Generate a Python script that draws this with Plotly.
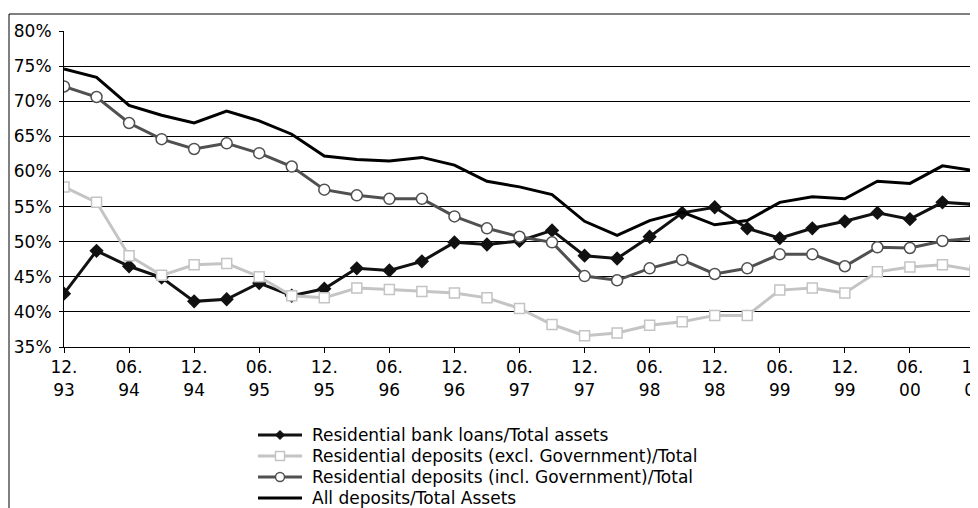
import plotly.graph_objects as go

# Trimestres (mm.aa)
trimestres = ['12.93', '03.94', '06.94', '09.94', '12.94', '03.95', '06.95', '09.95',
              '12.95', '03.96', '06.96', '09.96', '12.96', '03.97', '06.97', '09.97',
              '12.97', '03.98', '06.98', '09.98', '12.98', '03.99', '06.99', '09.99',
              '12.99', '03.00', '06.00', '09.00', '12.00']

prestamos = [42.6, 48.7, 46.5, 44.9, 41.5, 41.8, 44.1, 42.3, 43.3, 46.2, 45.9, 47.2,
             49.9, 49.6, 50.1, 51.6, 48.0, 47.6, 50.7, 54.1, 54.9, 51.9, 50.5, 51.9,
             52.9, 54.1, 53.2, 55.6, 55.3]
depositos_sin_gob = [57.8, 55.6, 48.0, 45.2, 46.7, 46.9, 45.0, 42.3, 42.0, 43.4, 43.2, 42.9,
                     42.7, 42.0, 40.5, 38.2, 36.6, 37.0, 38.1, 38.6, 39.5, 39.5, 43.1, 43.4,
                     42.7, 45.7, 46.4, 46.7, 45.9]
depositos_con_gob = [72.1, 70.6, 66.9, 64.6, 63.2, 64.0, 62.6, 60.7, 57.4, 56.6, 56.1, 56.1,
                     53.6, 51.9, 50.7, 49.9, 45.1, 44.5, 46.2, 47.4, 45.4, 46.2, 48.2, 48.2,
                     46.5, 49.2, 49.1, 50.1, 50.5]
depositos_total = [74.6, 73.4, 69.4, 68.0, 66.9, 68.6, 67.2, 65.3, 62.2, 61.7, 61.5, 62.0,
                   60.9, 58.6, 57.8, 56.7, 52.9, 50.9, 53.0, 54.2, 52.4, 53.0, 55.6, 56.4,
                   56.1, 58.6, 58.3, 60.8, 60.1]

nombres = ['Residential bank loans/Total assets',
           'Residential deposits (excl. Government)/Total',
           'Residential deposits (incl. Government)/Total',
           'All deposits/Total Assets']

# Etiquetas de los ejes
ticks_x = trimestres[::2]
etiquetas_x = [t.replace('.', '.<br>') for t in ticks_x]
ticks_y = [35, 40, 45, 50, 55, 60, 65, 70, 75, 80]
etiquetas_y = [f'{v}%' for v in ticks_y]

# La página deja 8 px de margen alrededor de la figura
DESP = 8
W, H = 970, 500
M_IZQ, M_DER, M_SUP, M_INF = 56, 3, 23, 161
ancho_plot = W - M_IZQ - M_DER
alto_plot = H - M_SUP - M_INF


def px_x(px):
    # coordenada de pantalla -> coordenada 'paper'
    return (px - DESP - M_IZQ) / ancho_plot


def px_y(py):
    return (H - M_INF - (py - DESP)) / alto_plot


NEGRO = '#111111'
GRIS_CLARO = '#c4c4c4'
GRIS_OSCURO = '#505050'

fig = go.Figure()

fig.add_trace(go.Scatter(x=trimestres, y=prestamos, mode='lines+markers', name=nombres[0],
                         line=dict(color=NEGRO, width=3),
                         marker=dict(symbol='diamond', size=11, color=NEGRO)))

fig.add_trace(go.Scatter(x=trimestres, y=depositos_sin_gob, mode='lines+markers', name=nombres[1],
                         line=dict(color=GRIS_CLARO, width=3),
                         marker=dict(symbol='square', size=10, color='white',
                                     line=dict(color=GRIS_CLARO, width=1.5))))

fig.add_trace(go.Scatter(x=trimestres, y=depositos_con_gob, mode='lines+markers', name=nombres[2],
                         line=dict(color=GRIS_OSCURO, width=3),
                         marker=dict(symbol='circle', size=11, color='white',
                                     line=dict(color=GRIS_OSCURO, width=1.5))))

fig.add_trace(go.Scatter(x=trimestres, y=depositos_total, mode='lines', name=nombres[3],
                         line=dict(color='#000000', width=3)))

# Marco exterior del gráfico (recortado a la derecha y abajo)
fig.add_shape(type='line', xref='paper', yref='paper', x0=px_x(9), x1=px_x(9), y0=px_y(14), y1=px_y(520),
              line=dict(color='black', width=1))
fig.add_shape(type='line', xref='paper', yref='paper', x0=px_x(9), x1=px_x(990), y0=px_y(14), y1=px_y(14),
              line=dict(color='black', width=1))

# Leyenda dibujada a mano (filas más juntas que la leyenda nativa)
filas = [435, 456, 477, 498]
colores = [NEGRO, GRIS_CLARO, GRIS_OSCURO, '#000000']
for fila, nombre, color in zip(filas, nombres, colores):
    fig.add_shape(type='line', xref='paper', yref='paper', x0=px_x(258), x1=px_x(302),
                  y0=px_y(fila), y1=px_y(fila), line=dict(color=color, width=3))
    fig.add_annotation(x=px_x(310), y=px_y(fila), xref='paper', yref='paper', text=nombre,
                       showarrow=False, xanchor='left', yanchor='middle',
                       font=dict(size=17, color='black'))

# Símbolos de la leyenda
cx = 280
fig.add_shape(type='path', xref='paper', yref='paper',
              path=f'M {px_x(cx - 4.5)} {px_y(filas[0])} L {px_x(cx)} {px_y(filas[0] - 4.5)} '
                   f'L {px_x(cx + 4.5)} {px_y(filas[0])} L {px_x(cx)} {px_y(filas[0] + 4.5)} Z',
              fillcolor=NEGRO, line=dict(color=NEGRO, width=1))
fig.add_shape(type='rect', xref='paper', yref='paper',
              x0=px_x(cx - 4.5), x1=px_x(cx + 4.5), y0=px_y(filas[1] - 4.5), y1=px_y(filas[1] + 4.5),
              fillcolor='white', line=dict(color=GRIS_CLARO, width=1.5))
fig.add_shape(type='circle', xref='paper', yref='paper',
              x0=px_x(cx - 4.5), x1=px_x(cx + 4.5), y0=px_y(filas[2] - 4.5), y1=px_y(filas[2] + 4.5),
              fillcolor='white', line=dict(color=GRIS_OSCURO, width=1.5))

fig.update_layout(
    width=W, height=H,
    margin=dict(l=M_IZQ, r=M_DER, t=M_SUP, b=M_INF),
    paper_bgcolor='white', plot_bgcolor='white',
    font=dict(family='DejaVu Sans', size=17, color='black'),
    showlegend=False,
    xaxis=dict(type='category', range=[0, 28], tickmode='array',
               tickvals=ticks_x, ticktext=etiquetas_x, tickangle=0,
               showgrid=False, showline=True, linecolor='black', linewidth=1,
               ticks='outside', ticklen=5, tickcolor='black',
               zeroline=False, automargin=False),
    yaxis=dict(range=[35, 80], tickmode='array', tickvals=ticks_y, ticktext=etiquetas_y,
               showgrid=True, gridcolor='black', gridwidth=1,
               showline=True, linecolor='black', linewidth=1, mirror=True,
               ticks='outside', ticklen=4, tickcolor='black',
               zeroline=False, automargin=False, ticklabelstandoff=4),
)

fig.write_html("out.html")
